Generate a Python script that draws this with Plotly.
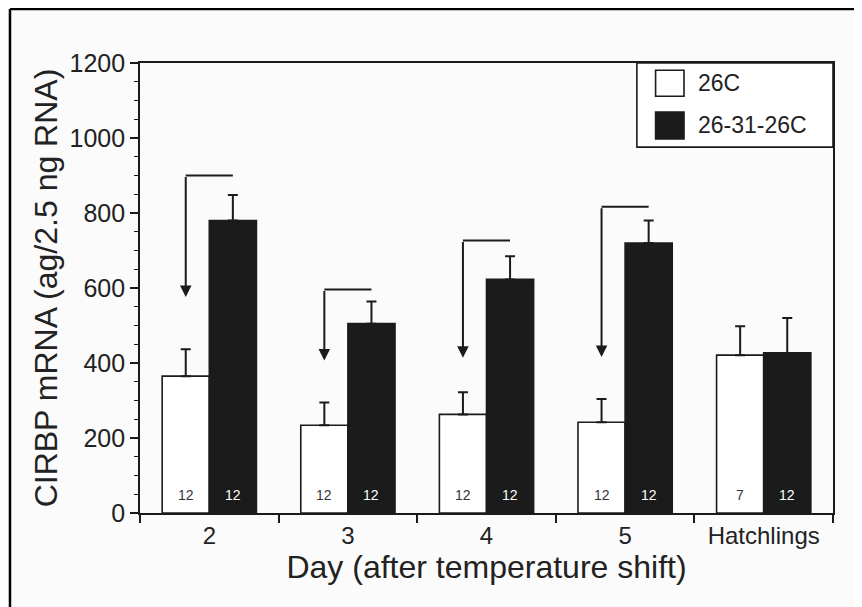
import plotly.graph_objects as go

# ---- data ----
days = ['2', '3', '4', '5', 'Hatchlings']
ctrl_mean = [365, 234, 263, 242, 421]          # 26C
ctrl_err = [72, 61, 59, 62, 77]
shift_mean = [780, 505, 623, 720, 427]         # 26-31-26C
shift_err = [68, 59, 62, 60, 93]
ctrl_n = ['12', '12', '12', '12', '7']
shift_n = ['12', '12', '12', '12', '12']

# arrows: bracket height over the shifted bar, arrow tip over the control bar
bracket_y = [900, 596, 727, 817]
arrow_tip = [576, 407, 414, 416]

FONT = 'Liberation Sans, Arial, sans-serif'
INK = '#1b1b1b'
OFF = 0.17   # half of one bar slot in category units

fig = go.Figure()

fig.add_trace(go.Bar(
    x=days, y=ctrl_mean, name='26C',
    marker=dict(color='white', line=dict(color=INK, width=1.6)),
    error_y=dict(type='data', array=ctrl_err, arrayminus=[0] * 5, symmetric=False,
                 color=INK, thickness=2, width=5),
    showlegend=False,
))
fig.add_trace(go.Bar(
    x=days, y=shift_mean, name='26-31-26C',
    marker=dict(color=INK, line=dict(color=INK, width=1.6)),
    error_y=dict(type='data', array=shift_err, arrayminus=[0] * 5, symmetric=False,
                 color=INK, thickness=2, width=5),
    showlegend=False,
))

annotations = []
shapes = []

# sample sizes at the foot of each bar
for i in range(len(days)):
    annotations.append(dict(x=i - OFF, y=48, text=ctrl_n[i], showarrow=False,
                            font=dict(family=FONT, size=14, color='#333333')))
    annotations.append(dict(x=i + OFF, y=48, text=shift_n[i], showarrow=False,
                            font=dict(family=FONT, size=14, color='white')))

# bracket + arrow from shifted bar down to control bar
for i in range(len(bracket_y)):
    shapes.append(dict(type='line', xref='x', yref='y',
                       x0=i - OFF, x1=i + OFF, y0=bracket_y[i], y1=bracket_y[i],
                       line=dict(color=INK, width=2)))
    annotations.append(dict(x=i - OFF, y=arrow_tip[i], ax=i - OFF, ay=bracket_y[i],
                            xref='x', yref='y', axref='x', ayref='y', text='',
                            showarrow=True, arrowhead=2, arrowsize=1.15, arrowwidth=2,
                            arrowcolor=INK, standoff=0))

# hand-drawn legend box (large square keys as in the original)
shapes.append(dict(type='rect', xref='paper', yref='paper', x0=0.717, x1=1.0, y0=0.813, y1=1.0,
                   line=dict(color=INK, width=1.6), fillcolor='white', layer='above'))
shapes.append(dict(type='rect', xref='paper', yref='paper', x0=0.744, x1=0.785, y0=0.926, y1=0.984,
                   line=dict(color=INK, width=1.6), fillcolor='white', layer='above'))
shapes.append(dict(type='rect', xref='paper', yref='paper', x0=0.744, x1=0.785, y0=0.831, y1=0.891,
                   line=dict(color=INK, width=1.6), fillcolor=INK, layer='above'))
annotations.append(dict(xref='paper', yref='paper', x=0.803, y=0.955, text='26C', showarrow=False,
                        xanchor='left', yanchor='middle',
                        font=dict(family=FONT, size=23, color='#222222')))
annotations.append(dict(xref='paper', yref='paper', x=0.803, y=0.862, text='26-31-26C',
                        showarrow=False, xanchor='left', yanchor='middle',
                        font=dict(family=FONT, size=23, color='#222222')))

# outer frame of the figure panel (left and top edges)
shapes.append(dict(type='line', xref='paper', yref='paper', x0=-0.1876, x1=-0.1876, y0=1.12, y1=-0.3,
                   line=dict(color='black', width=2.5)))
shapes.append(dict(type='line', xref='paper', yref='paper', x0=-0.1876, x1=1.1, y0=1.12, y1=1.12,
                   line=dict(color='black', width=2.5)))

fig.update_layout(
    width=862, height=607,
    margin=dict(l=132, r=37, t=55, b=102),
    paper_bgcolor='#fbfbfb', plot_bgcolor='#fbfbfb',
    barmode='group', bargap=0.32, bargroupgap=0,
    font=dict(family=FONT, color='#222222'),
    shapes=shapes, annotations=annotations,
)

fig.update_xaxes(
    type='category', showline=True, linecolor=INK, linewidth=1.6, mirror=True,
    ticks='outside', tickson='boundaries', ticklen=8, tickwidth=1.6, tickcolor=INK,
    tickfont=dict(size=24), showgrid=False,
    title=dict(text='Day (after temperature shift)', font=dict(size=32), standoff=4),
)
fig.update_yaxes(
    range=[0, 1200], tickvals=[0, 200, 400, 600, 800, 1000, 1200],
    showline=True, linecolor=INK, linewidth=1.6, mirror=True,
    ticks='outside', ticklen=8, tickwidth=1.6, tickcolor=INK,
    minor=dict(dtick=50, ticks='outside', ticklen=4, tickwidth=1.4, tickcolor=INK, showgrid=False),
    tickfont=dict(size=25), showgrid=False, zeroline=False,
    title=dict(text='CIRBP mRNA (ag/2.5 ng RNA)', font=dict(size=32), standoff=2),
)

fig.write_html('out.html')
